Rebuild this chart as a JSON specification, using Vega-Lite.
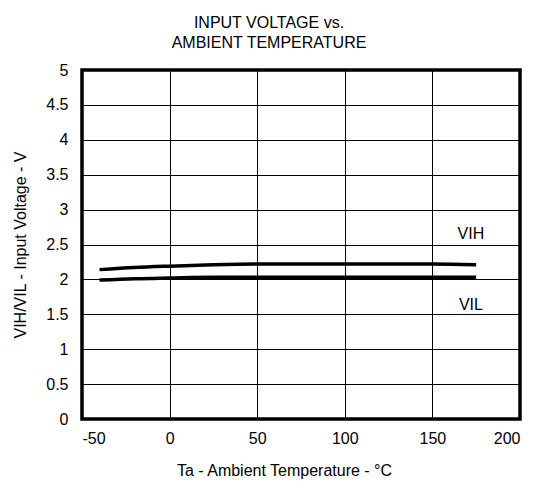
{
  "$schema": "https://vega.github.io/schema/vega-lite/v6.json",
  "autosize": "none",
  "width": 438,
  "height": 349,
  "padding": {"left": 82, "top": 70, "right": 25, "bottom": 69},
  "background": "white",
  "config": {
    "font": "Liberation Sans",
    "view": {"stroke": "black", "strokeWidth": 3.5},
    "axis": {
      "grid": true,
      "gridColor": "black",
      "gridOpacity": 1,
      "gridWidth": 1,
      "domain": false,
      "ticks": false,
      "labelOverlap": false,
      "labelFont": "Liberation Sans",
      "labelFontSize": 16,
      "labelColor": "black",
      "titleFont": "Liberation Sans",
      "titleFontSize": 16,
      "titleFontWeight": "normal",
      "titleColor": "black",
      "labelExpr": "datum.value < 0 ? '-' + abs(datum.value) : '' + datum.value"
    }
  },
  "title": {
    "text": ["INPUT VOLTAGE vs.", "AMBIENT TEMPERATURE"],
    "font": "Liberation Sans",
    "fontSize": 16,
    "fontWeight": "normal",
    "color": "black",
    "anchor": "middle",
    "dx": -32,
    "offset": 11,
    "lineHeight": 20
  },
  "datasets": {
    "curves": [
      {"series": "VIH", "t": -40, "v": 2.14},
      {"series": "VIH", "t": -20, "v": 2.17},
      {"series": "VIH", "t": 0, "v": 2.19},
      {"series": "VIH", "t": 25, "v": 2.21},
      {"series": "VIH", "t": 50, "v": 2.22},
      {"series": "VIH", "t": 75, "v": 2.22},
      {"series": "VIH", "t": 100, "v": 2.22},
      {"series": "VIH", "t": 125, "v": 2.22},
      {"series": "VIH", "t": 150, "v": 2.22},
      {"series": "VIH", "t": 175, "v": 2.21},
      {"series": "VIL", "t": -40, "v": 1.99},
      {"series": "VIL", "t": -20, "v": 2.01},
      {"series": "VIL", "t": 0, "v": 2.02},
      {"series": "VIL", "t": 25, "v": 2.03},
      {"series": "VIL", "t": 50, "v": 2.03},
      {"series": "VIL", "t": 100, "v": 2.03},
      {"series": "VIL", "t": 150, "v": 2.03},
      {"series": "VIL", "t": 175, "v": 2.03}
    ],
    "labels": [
      {"label": "VIH", "t": 172, "v": 2.65},
      {"label": "VIL", "t": 172, "v": 1.63}
    ]
  },
  "encoding": {
    "x": {"field": "t", "type": "quantitative",
          "scale": {"domain": [-50, 200], "nice": false},
          "axis": {"values": [-50, 0, 50, 100, 150, 200], "title": "Ta - Ambient  Temperature  - °C", "titleX": 202, "labelPadding": 11, "titlePadding": 16}},
    "y": {"field": "v", "type": "quantitative",
          "scale": {"domain": [0, 5], "nice": false},
          "axis": {"values": [0, 0.5, 1, 1.5, 2, 2.5, 3, 3.5, 4, 4.5, 5], "title": "VIH/VIL - Input Voltage - V", "labelPadding": 14, "titlePadding": 17}}
  },
  "layer": [
    {
      "data": {"name": "curves"},
      "mark": {"type": "line", "color": "black", "strokeWidth": 3.5, "interpolate": "monotone"},
      "encoding": {
        "detail": {"field": "series"}
      }
    },
    {
      "data": {"name": "labels"},
      "mark": {"type": "text", "font": "Liberation Sans", "fontSize": 16, "color": "black", "align": "center", "baseline": "middle"},
      "encoding": {
        "text": {"field": "label"}
      }
    }
  ]
}
